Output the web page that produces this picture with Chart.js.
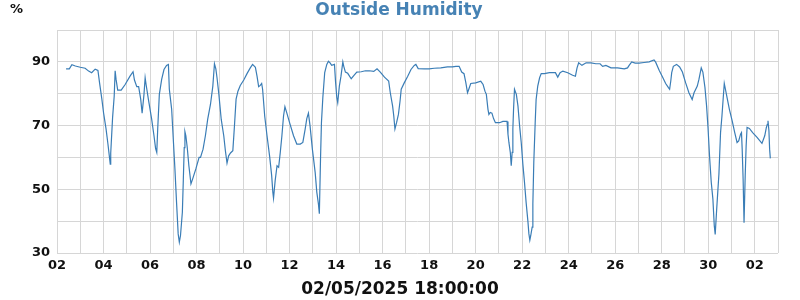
<!DOCTYPE html>
<html>
<head>
<meta charset="utf-8">
<script src="https://cdn.jsdelivr.net/npm/chart.js"></script>
<style>
  body { margin: 0; background: #fff; }
  #wrap { width: 800px; height: 300px; }
</style>
</head>
<body>
<div id="wrap"><canvas id="humChart" width="800" height="300"></canvas></div>
<script>
// days since 02/04 00:00 and outside humidity in %
const days = [
  0.39, 0.53, 0.64, 0.79, 1.0, 1.21, 1.36, 1.49, 1.64, 1.76, 1.83, 1.93, 2.0, 2.11, 2.19, 2.29, 2.31, 2.39, 2.46, 2.5,
  2.54, 2.61, 2.76, 2.93, 3.14, 3.27, 3.33, 3.43, 3.51, 3.6, 3.66, 3.74, 3.79, 3.83, 3.93, 4.07, 4.17, 4.24, 4.29, 4.33,
  4.4, 4.5, 4.6, 4.71, 4.79, 4.83, 4.93, 5.0, 5.07, 5.14, 5.21, 5.26, 5.31, 5.39, 5.43, 5.47, 5.5, 5.54, 5.6, 5.67,
  5.76, 5.83, 5.97, 6.11, 6.17, 6.28, 6.38, 6.48, 6.6, 6.7, 6.77, 6.83, 6.88, 6.96, 7.06, 7.17, 7.24, 7.31, 7.38, 7.46,
  7.56, 7.63, 7.7, 7.78, 7.88, 8.03, 8.17, 8.31, 8.41, 8.53, 8.6, 8.67, 8.74, 8.8, 8.84, 8.93, 9.03, 9.14, 9.23, 9.28,
  9.31, 9.38, 9.46, 9.53, 9.6, 9.67, 9.74, 9.8, 9.88, 10.0, 10.17, 10.31, 10.46, 10.57, 10.67, 10.74, 10.81, 10.88, 10.98, 11.1,
  11.17, 11.24, 11.28, 11.33, 11.37, 11.43, 11.51, 11.6, 11.67, 11.74, 11.81, 11.93, 11.98, 12.03, 12.07, 12.14, 12.21, 12.29, 12.33, 12.4,
  12.5, 12.65, 12.76, 12.89, 13.08, 13.26, 13.43, 13.62, 13.76, 13.9, 14.08, 14.26, 14.33, 14.43, 14.48, 14.53, 14.6, 14.68, 14.75, 14.8,
  14.93, 15.08, 15.22, 15.36, 15.43, 15.53, 15.79, 16.0, 16.22, 16.5, 16.79, 17.0, 17.15, 17.29, 17.4, 17.5, 17.58, 17.65, 17.69, 17.79,
  18.0, 18.22, 18.32, 18.4, 18.46, 18.53, 18.57, 18.63, 18.7, 18.77, 18.85, 19.03, 19.17, 19.35, 19.39, 19.43, 19.49, 19.53, 19.57, 19.6,
  19.63, 19.67, 19.75, 19.82, 19.89, 19.96, 20.03, 20.1, 20.17, 20.25, 20.29, 20.33, 20.37, 20.43, 20.46, 20.5, 20.56, 20.6, 20.67, 20.75,
  20.82, 20.96, 21.17, 21.43, 21.53, 21.63, 21.75, 21.96, 22.17, 22.29, 22.36, 22.43, 22.57, 22.75, 22.96, 23.17, 23.35, 23.46, 23.6, 23.82,
  24.1, 24.39, 24.53, 24.6, 24.71, 24.86, 25.03, 25.24, 25.46, 25.67, 25.74, 25.89, 26.03, 26.17, 26.29, 26.34, 26.39, 26.43, 26.5, 26.64,
  26.77, 26.89, 27.03, 27.17, 27.31, 27.39, 27.53, 27.6, 27.7, 27.77, 27.86, 27.93, 27.99, 28.06, 28.13, 28.2, 28.26, 28.3, 28.36, 28.41,
  28.46, 28.53, 28.59, 28.64, 28.69, 28.74, 28.81, 28.91, 29.03, 29.14, 29.24, 29.31, 29.39, 29.43, 29.46, 29.5, 29.54, 29.59, 29.63, 29.67,
  29.77, 29.91, 30.1, 30.31, 30.43, 30.5, 30.54, 30.57, 30.61, 30.64, 30.67
];
const humidity = [
  87.8, 87.8, 89.1, 88.7, 88.3, 88.0, 87.1, 86.6, 87.7, 87.3, 83.4, 78.2, 74.1, 68.9, 64.2, 57.9, 61.4, 72.5, 79.3, 87.2,
  84.5, 81.1, 81.1, 82.9, 85.5, 86.9, 84.3, 82.2, 82.2, 78.2, 73.9, 79.8, 85.0, 82.9, 78.2, 72.0, 66.8, 62.8, 61.6, 68.9,
  79.8, 84.5, 87.6, 88.9, 89.2, 81.4, 75.1, 65.7, 56.4, 45.9, 36.0, 33.4, 35.5, 42.8, 52.7, 63.1, 68.1, 66.8, 63.1, 57.4,
  51.7, 53.2, 56.4, 60.0, 60.0, 62.6, 66.8, 72.0, 76.7, 82.4, 89.4, 87.8, 85.0, 79.8, 72.0, 66.8, 62.1, 58.2, 60.5, 61.4,
  62.1, 69.9, 78.3, 80.8, 82.6, 84.3, 86.3, 88.1, 89.2, 88.3, 85.5, 82.2, 82.6, 83.2, 81.4, 73.0, 66.8, 60.5, 54.3, 49.1,
  47.2, 52.7, 57.4, 56.9, 61.6, 66.8, 73.0, 75.9, 74.0, 70.9, 66.8, 64.2, 64.2, 64.7, 68.9, 72.2, 73.9, 69.9, 62.6, 55.3,
  49.1, 45.4, 42.3, 59.5, 70.9, 78.8, 86.6, 89.2, 90.2, 89.7, 88.9, 89.2, 83.4, 78.8, 77.2, 82.4, 85.5, 90.0, 88.6, 86.8,
  86.4, 84.7, 85.7, 86.8, 86.9, 87.2, 87.2, 87.0, 87.8, 86.8, 85.2, 84.0, 80.3, 76.1, 73.0, 68.9, 70.9, 73.5, 77.7, 81.4,
  83.4, 85.5, 87.6, 88.9, 89.2, 87.9, 87.8, 87.8, 88.0, 88.1, 88.4, 88.4, 88.6, 88.6, 86.8, 86.3, 83.4, 80.3, 81.1, 83.2,
  83.4, 83.9, 82.9, 80.8, 79.8, 75.1, 73.5, 74.1, 73.9, 72.2, 70.9, 70.9, 71.3, 71.3, 67.3, 64.7, 61.6, 57.4, 61.6, 68.9,
  75.1, 81.4, 79.8, 76.1, 69.9, 64.7, 57.9, 52.2, 45.9, 39.7, 36.0, 34.0, 35.5, 38.1, 45.4, 58.4, 70.9, 78.2, 82.4, 85.0,
  86.3, 86.3, 86.6, 86.6, 85.2, 86.6, 87.1, 86.6, 85.8, 85.5, 88.1, 89.7, 88.9, 89.7, 89.7, 89.4, 89.4, 88.6, 88.9, 88.1,
  88.1, 87.8, 88.1, 88.9, 90.0, 89.6, 89.6, 89.8, 90.0, 90.6, 89.9, 87.4, 85.3, 83.2, 81.9, 81.4, 84.0, 86.6, 88.6, 89.2,
  88.4, 86.8, 83.4, 80.3, 78.2, 80.3, 82.4, 84.5, 88.1, 86.8, 81.9, 76.1, 69.4, 60.0, 52.2, 47.0, 38.6, 35.8, 43.3, 49.1,
  54.8, 67.8, 73.0, 78.2, 83.2, 81.4, 78.8, 75.1, 71.5, 67.8, 64.7, 65.2, 67.3, 67.8, 62.6, 53.2, 39.5, 54.3, 63.6, 69.4,
  69.1, 67.8, 66.3, 64.4, 66.8, 69.4, 70.4, 71.5, 68.4, 62.6, 59.7
];

// x tick labels, one every 2 days starting at 02/04
const dayLabels = ['02', '04', '06', '08', '10', '12', '14', '16', '18', '20', '22', '24', '26', '28', '30', '02'];
const yLabels = [30, 50, 70, 90];

const points = days.map((d, i) => ({ x: d, y: humidity[i] }));

// title, unit and date stamp
const textPlugin = {
    id: 'texts',
    afterDraw(chart) {
        const c = chart.ctx;
        c.save();
        c.textBaseline = 'middle';
        c.fillStyle = '#4682b4';
        c.font = 'bold 17px "DejaVu Sans"';
        c.textAlign = 'center';
        c.fillText('Outside Humidity', 399, 11);
        c.fillStyle = '#111';
        c.font = 'bold 13px "DejaVu Sans"';
        c.textAlign = 'left';
        c.fillText('%', 10, 10);
        c.font = 'bold 17px "DejaVu Sans"';
        c.textAlign = 'center';
        c.fillText('02/05/2025 18:00:00', 400, 290);
        c.restore();
    }
};

var ctx = document.getElementById('humChart').getContext('2d');
var humChart = new Chart(ctx, {
    type: 'line',
    data: {
        datasets: [{
            label: 'Outside Humidity',
            data: points,
            borderColor: '#3a7db6',
            borderWidth: 1.2,
            pointRadius: 0,
            fill: false,
            tension: 0
        }]
    },
    options: {
        responsive: false,
        animation: false,
        layout: { padding: { top: 30, right: 22, left: 0, bottom: 0 } },
        plugins: {
            legend: { display: false },
            tooltip: { enabled: false }
        },
        scales: {
            x: {
                type: 'linear',
                min: 0,
                max: 31,
                afterFit: (s) => { s.height = 47; },
                grid: { color: '#d6d6d6', drawTicks: false },
                border: { display: false },
                ticks: {
                    stepSize: 1,
                    autoSkip: false,
                    maxRotation: 0,
                    padding: 5,
                    color: '#111',
                    font: { family: 'DejaVu Sans', size: 13, weight: 'bold' },
                    callback: (v) => (v % 2 === 0 ? dayLabels[v / 2] : '')
                }
            },
            y: {
                min: 30,
                max: 100,
                afterFit: (s) => { s.width = 57; },
                grid: { color: '#d6d6d6', drawTicks: false },
                border: { display: false },
                ticks: {
                    stepSize: 10,
                    padding: 7,
                    color: '#111',
                    font: { family: 'DejaVu Sans', size: 13, weight: 'bold' },
                    callback: (v) => (yLabels.includes(v) ? v : '')
                }
            }
        }
    },
    plugins: [textPlugin]
});
</script>
</body>
</html>
